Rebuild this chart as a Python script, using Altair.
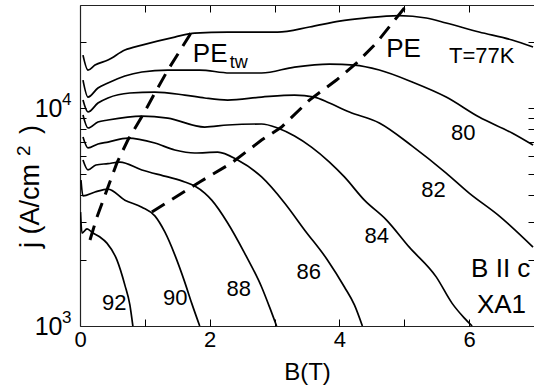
import altair as alt
import pandas as pd

W, H = 454, 321
FONT = "Liberation Sans"

# Field sweeps at fixed temperature: B in tesla, j in A/cm^2
TEMPS = ["77", "80", "82", "84", "86", "88", "90", "92"]

B_77 = [0.046, 0.123, 0.231, 0.431, 0.692, 0.954, 1.462, 1.769, 2.277, 3.046, 3.538, 4.0, 4.385, 4.923, 5.338, 5.646, 6.154, 6.662, 6.985]
J_77 = [17500, 14940, 15750, 16600, 18450, 19450, 21170, 22080, 22320, 22320, 23550, 25070, 25880, 26570, 25880, 24550, 22320, 20510, 19050]

B_80 = [0.046, 0.123, 0.277, 0.431, 0.692, 0.954, 1.354, 1.846, 2.308, 2.8, 3.308, 3.846, 4.231, 4.615, 5.123, 5.646, 6.154, 6.662, 6.985]
J_80 = [13440, 11230, 12360, 13020, 14020, 14630, 14940, 14940, 14480, 14480, 15420, 15920, 15750, 14940, 13160, 11230, 9090, 7680, 6760]

B_82 = [0.046, 0.123, 0.277, 0.431, 0.769, 1.154, 1.615, 1.923, 2.277, 2.8, 3.308, 3.615, 3.846, 4.154, 4.615, 5.123, 5.646, 6.0, 6.462, 6.985]
J_82 = [10880, 9590, 10540, 11120, 11720, 11840, 11470, 11120, 10880, 11230, 11470, 11230, 10540, 9590, 8540, 6690, 5030, 4070, 3200, 2300]

B_84 = [0.046, 0.123, 0.277, 0.431, 0.954, 1.354, 1.923, 2.277, 2.8, 3.046, 3.308, 3.569, 3.846, 4.077, 4.385, 4.723, 5.077, 5.492, 5.738, 5.923, 6.046]
J_84 = [9290, 8100, 8630, 8810, 9190, 8990, 8180, 8360, 8450, 8100, 7440, 6620, 5650, 4830, 3780, 3070, 2300, 1680, 1270, 1090, 1000]

B_86 = [0.046, 0.123, 0.277, 0.431, 0.738, 1.154, 1.462, 1.769, 2.123, 2.431, 2.8, 3.154, 3.462, 3.815, 4.077, 4.231, 4.354]
J_86 = [7360, 6560, 6840, 6980, 7280, 6910, 6420, 6220, 6280, 5770, 4830, 3670, 2760, 2010, 1510, 1250, 1000]

B_88 = [0.046, 0.123, 0.246, 0.431, 0.615, 0.954, 1.354, 1.615, 1.769, 1.923, 2.031, 2.277, 2.538, 2.8, 2.923, 3.031]
J_88 = [5770, 5200, 5480, 5560, 5650, 5200, 4830, 4580, 4390, 4070, 3780, 2970, 2160, 1510, 1220, 1000]

B_90 = [0.015, 0.046, 0.231, 0.431, 0.692, 0.954, 1.154, 1.308, 1.462, 1.615, 1.723, 1.846]
J_90 = [4670, 3950, 4120, 4250, 3780, 3510, 3200, 2700, 2120, 1590, 1270, 1000]

B_92 = [0.008, 0.03, 0.108, 0.2, 0.308, 0.415, 0.569, 0.692, 0.769, 0.815]
J_92 = [3330, 2670, 2790, 2670, 2560, 2400, 2010, 1540, 1250, 1000]

# Peak-effect boundaries (dashed)
PETW_B = [0.154, 0.262, 0.415, 0.569, 0.738, 0.969, 1.154, 1.354, 1.692, 1.74]
PETW_J = [2480, 3160, 4210, 5600, 7130, 9290, 11720, 14930, 21620, 23300]
PE_B = [1.108, 1.846, 2.338, 2.8, 3.108, 3.538, 3.954, 4.262, 4.569, 5.05]
PE_J = [3335, 4580, 5600, 7130, 8180, 10880, 13440, 16080, 19870, 30000]

# Annotations inside the frame
ANN_TEXT = ["T=77K", "PE", "PE", "tw", "80", "82", "84", "86", "88", "90", "92", "B II c", "XA1"]
ANN_B = [5.69, 4.72, 1.74, 2.31, 5.72, 5.26, 4.385, 3.34, 2.26, 1.28, 0.34, 6.03, 6.12]
ANN_J = [16070, 17140, 16260, 15240, 7130, 3910, 2400, 1640, 1373, 1248, 1184, 1679, 1147]
ANN_SIZE = [22, 26, 26, 18, 22, 22, 22, 22, 22, 22, 22, 26, 26]

# Decade exponents next to the "10" tick labels
EXP_TEXT = ["3", "4"]
EXP_B = [-0.278, -0.278]
EXP_J = [1032, 10325]

# Vertical axis title, set in pieces so the exponent can be raised
YT_TEXT = ["j (A/cm", "2", ")"]
YT_B = [-0.632, -0.771, -0.632]
YT_J = [2280, 6026, 7600]
YT_SIZE = [27, 19, 27]

X_TICKS = [0, 1, 2, 3, 4, 5, 6, 7]
Y_TICKS = [2000, 3000, 4000, 5000, 6000, 7000, 8000, 9000, 10000, 20000]

series = {
    "77": (B_77, J_77), "80": (B_80, J_80), "82": (B_82, J_82), "84": (B_84, J_84),
    "86": (B_86, J_86), "88": (B_88, J_88), "90": (B_90, J_90), "92": (B_92, J_92),
}
rows = []
for t in TEMPS:
    bs, js = series[t]
    for i, (b, j) in enumerate(zip(bs, js)):
        rows.append({"T": t, "B": b, "j": j, "i": i})
curves_df = pd.DataFrame(rows)

petw_df = pd.DataFrame({"B": PETW_B, "j": PETW_J, "i": range(len(PETW_B))})
pe_df = pd.DataFrame({"B": PE_B, "j": PE_J, "i": range(len(PE_B))})
ann_df = pd.DataFrame({"label": ANN_TEXT, "B": ANN_B, "j": ANN_J, "fs": ANN_SIZE})
exp_df = pd.DataFrame({"label": EXP_TEXT, "B": EXP_B, "j": EXP_J})
yt_df = pd.DataFrame({"label": YT_TEXT, "B": YT_B, "j": YT_J, "fs": YT_SIZE})

xs = alt.Scale(domain=[0, 7], nice=False, zero=False)
ys = alt.Scale(type="log", domain=[1000, 29700], nice=False)

tick_style = dict(labels=False, grid=False, title=None, tickColor="black", tickWidth=1)

curves = alt.Chart(curves_df).mark_line(
    color="black", strokeWidth=1.7, clip=True, interpolate="monotone"
).encode(
    x=alt.X("B:Q", scale=xs, axis=alt.Axis(
        orient="bottom", values=[0, 2, 4, 6], ticks=False, domain=True, grid=False,
        title="B(T)", labelFontSize=22, titleFontSize=24, labelPadding=3, titlePadding=10,
        labelFlush=False)),
    y=alt.Y("j:Q", scale=ys, axis=alt.Axis(
        orient="left", values=[1000, 10000], ticks=False, domain=True, grid=False,
        labelExpr="'10'", title=None, labelFontSize=25, labelPadding=18,
        labelFlush=False)),
    detail="T:N",
    order="i:Q",
)

petw = alt.Chart(petw_df).mark_line(
    color="black", strokeWidth=3, strokeDash=[15, 9], clip=True
).encode(
    x=alt.X("B:Q", scale=xs, axis=alt.Axis(orient="top", offset=-H, values=X_TICKS,
                                          tickSize=7, domain=False, **tick_style)),
    y=alt.Y("j:Q", scale=ys, axis=alt.Axis(orient="right", offset=-W, values=Y_TICKS,
                                          tickSize=6, domain=False, **tick_style)),
    order="i:Q",
)

pe = alt.Chart(pe_df).mark_line(
    color="black", strokeWidth=3, strokeDash=[15, 9], clip=True
).encode(
    x=alt.X("B:Q", scale=xs, axis=alt.Axis(orient="bottom", offset=-H, values=X_TICKS,
                                          tickSize=7, domain=True, **tick_style)),
    y=alt.Y("j:Q", scale=ys, axis=alt.Axis(orient="left", offset=-W, values=Y_TICKS,
                                          tickSize=6, domain=False, **tick_style)),
    order="i:Q",
)

labels = alt.Chart(ann_df).mark_text(
    align="left", baseline="alphabetic", font=FONT, color="black"
).encode(
    x=alt.X("B:Q", scale=xs, axis=None),
    y=alt.Y("j:Q", scale=ys, axis=None),
    text="label:N",
    size=alt.Size("fs:Q", scale=None, legend=None),
)

exponents = alt.Chart(exp_df).mark_text(
    align="left", baseline="alphabetic", font=FONT, color="black", fontSize=17
).encode(
    x=alt.X("B:Q", scale=xs, axis=None),
    y=alt.Y("j:Q", scale=ys, axis=None),
    text="label:N",
)

ytitle = alt.Chart(yt_df).mark_text(
    align="left", baseline="alphabetic", font=FONT, color="black", angle=270
).encode(
    x=alt.X("B:Q", scale=xs, axis=None),
    y=alt.Y("j:Q", scale=ys, axis=None),
    text="label:N",
    size=alt.Size("fs:Q", scale=None, legend=None),
)

chart = alt.layer(curves, petw, pe, labels, exponents, ytitle).resolve_axis(
    x="independent", y="independent"
).properties(
    width=W, height=H,
    autosize=alt.AutoSizeParams(type="none"),
    padding={"left": 80, "top": 5, "right": 0, "bottom": 66},
    background="white",
).configure_view(stroke=None).configure_axis(
    labelFont=FONT, titleFont=FONT, labelColor="black", titleColor="black",
    domainColor="#222222", domainWidth=1.2, titleFontWeight="normal",
)

chart.save("out.html", embed_options={"renderer": "svg", "actions": False})
